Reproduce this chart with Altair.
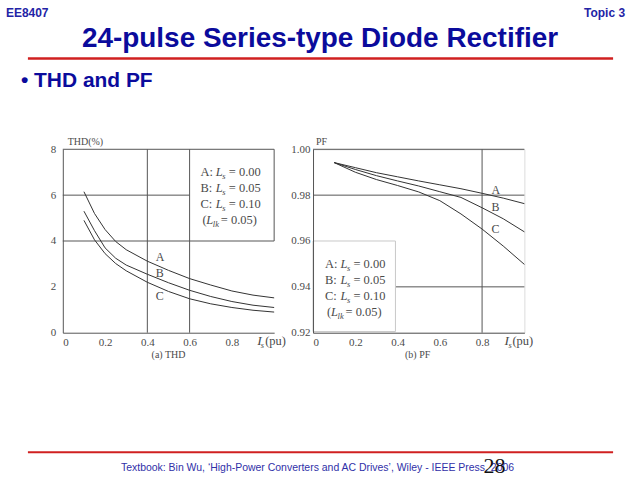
import altair as alt
import pandas as pd

# ---------------- data ----------------
I_thd = [0.10, 0.15, 0.20, 0.25, 0.30, 0.40, 0.50, 0.60, 0.70, 0.80, 0.90, 1.00]
thd_A = [6.15, 5.20, 4.50, 3.98, 3.62, 3.12, 2.72, 2.36, 2.08, 1.82, 1.64, 1.52]
thd_B = [5.30, 4.45, 3.70, 3.25, 2.95, 2.55, 2.18, 1.85, 1.58, 1.36, 1.20, 1.10]
thd_C = [4.90, 4.05, 3.45, 3.02, 2.70, 2.20, 1.80, 1.48, 1.26, 1.10, 0.98, 0.90]

I_pf = [0.10, 0.20, 0.30, 0.40, 0.50, 0.60, 0.70, 0.80, 0.90, 1.00]
pf_A = [0.9942, 0.9920, 0.9898, 0.9880, 0.9862, 0.9845, 0.9828, 0.9808, 0.9787, 0.9763]
pf_B = [0.9942, 0.9912, 0.9885, 0.9862, 0.9840, 0.9815, 0.9790, 0.9745, 0.9697, 0.9640]
pf_C = [0.9942, 0.9900, 0.9868, 0.9842, 0.9814, 0.9776, 0.9718, 0.9652, 0.9578, 0.9498]

curve_names = ["A", "B", "C"]
ls_values = ["= 0.00", "= 0.05", "= 0.10"]
llk_value = "= 0.05)"

thd_ticks = [0, 2, 4, 6, 8]
pf_ticks = [0.92, 0.94, 0.96, 0.98, 1.00]
x_ticks = [0, 0.2, 0.4, 0.6, 0.8]

# grid / frame lines (data units)
thd_h_y = [8, 6, 4]
thd_h_x1 = [0, 0, 0]
thd_h_x2 = [1.0, 0.6, 1.0]
thd_v_x = [0.4, 0.6, 1.0]
thd_v_y1 = [0, 0, 4]
thd_v_y2 = [8, 8, 8]

pf_h_y = [1.00, 0.98, 0.94]
pf_h_x1 = [0, 0, 0.39]
pf_h_x2 = [1.0, 1.0, 1.0]
pf_v_x = [0.8]
pf_v_y1 = [0.92]
pf_v_y2 = [1.00]

# annotation anchors (data units)
thd_lab_x = [0.44, 0.44, 0.44]
thd_lab_y = [3.30, 2.62, 1.62]
pf_lab_x = [0.845, 0.845, 0.845]
pf_lab_y = [0.9821, 0.9748, 0.9651]
thd_leg_x = 0.651
thd_leg_y = [7.00, 6.30, 5.61, 4.91]
pf_leg_x = 0.057
pf_leg_y = [0.9499, 0.9429, 0.9361, 0.9291]

# ---------------- style ----------------
SERIF = "Liberation Serif"
SANS = "Liberation Sans"
TC = "#4a4a4a"
LC = "#555555"
BLUE = "#0b0b9c"
RED = "#d02020"
W, H = 212, 184
FS = 12.5


def one():
    return pd.DataFrame({"k": [0]})


def deco_text(text, x, y, **kw):
    return alt.Chart(one()).mark_text(text=text, **kw).encode(
        x=alt.value(x), y=alt.value(y))


def ftext(df, xs, ys, text_field=None, **kw):
    enc = dict(x=alt.X("x:Q", scale=xs, title=None),
               y=alt.Y("y:Q", scale=ys, title=None))
    if text_field:
        enc["text"] = alt.Text(f"{text_field}:N")
    return alt.Chart(df).mark_text(**kw).encode(**enc)


def rules(xs, ys, hx1, hx2, hy, vx, vy1, vy2):
    h = alt.Chart(pd.DataFrame({"x": hx1, "x2": hx2, "y": hy})).mark_rule(
        color=LC, strokeWidth=1).encode(
        x=alt.X("x:Q", scale=xs, title=None), x2="x2:Q",
        y=alt.Y("y:Q", scale=ys, title=None))
    v = alt.Chart(pd.DataFrame({"x": vx, "y": vy1, "y2": vy2})).mark_rule(
        color=LC, strokeWidth=1).encode(
        x=alt.X("x:Q", scale=xs, title=None),
        y=alt.Y("y:Q", scale=ys, title=None), y2="y2:Q")
    return [h, v]


def legend_layers(xs, ys, lx, ly):
    rows = pd.DataFrame({"x": [lx] * 3, "y": ly[:3],
                         "pre": [c + ":" for c in curve_names], "val": ls_values})
    base = dict(align="left", baseline="middle", font=SERIF, fontSize=FS, color=TC)
    out = [
        ftext(rows, xs, ys, "pre", **base),
        ftext(rows, xs, ys, text="L", fontStyle="italic", dx=15.5, **base),
        ftext(rows, xs, ys, text="s", fontStyle="italic", dx=22, dy=4,
              **{**base, "fontSize": 8.5}),
        ftext(rows, xs, ys, "val", dx=28.5, **base),
    ]
    prow = pd.DataFrame({"x": [lx], "y": [ly[3]]})
    out += [
        ftext(prow, xs, ys, text="(", dx=2, **base),
        ftext(prow, xs, ys, text="L", fontStyle="italic", dx=6, **base),
        ftext(prow, xs, ys, text="lk", fontStyle="italic", dx=12.5, dy=4,
              **{**base, "fontSize": 8.5}),
        ftext(prow, xs, ys, text=llk_value, dx=20.5, **base),
    ]
    return out


def xtitle_layers(xs, ys, ymin, dI, dsub, dpu):
    p = pd.DataFrame({"x": [1.0], "y": [ymin]})
    base = dict(align="left", baseline="middle", font=SERIF, color=TC)
    return [
        ftext(p, xs, ys, text="I", fontStyle="italic", fontSize=13.5, dx=dI, dy=8, **base),
        ftext(p, xs, ys, text="s", fontStyle="italic", fontSize=8.5, dx=dsub, dy=12, **base),
        ftext(p, xs, ys, text="(pu)", fontSize=12.5, dx=dpu, dy=8, **base),
    ]


axis_common = dict(labelFont=SERIF, labelFontSize=11, labelColor=TC,
                   domainColor=LC, domainWidth=1, ticks=False, grid=False,
                   zindex=1, title=None)

# ---------------- THD panel ----------------
xs1 = alt.Scale(domain=[0, 1], nice=False, zero=False)
ys1 = alt.Scale(domain=[0, 8], nice=False)

thd_df = pd.DataFrame({
    "I": I_thd * 3,
    "v": thd_A + thd_B + thd_C,
    "c": [n for n in curve_names for _ in I_thd],
})

thd_lines = alt.Chart(thd_df).mark_line(color="#333333", strokeWidth=1).encode(
    x=alt.X("I:Q", scale=xs1,
            axis=alt.Axis(values=x_ticks, labelPadding=4,
                          labelExpr="datum.value == 0 ? '0' : format(datum.value, '.1f')",
                          **axis_common)),
    y=alt.Y("v:Q", scale=ys1,
            axis=alt.Axis(values=thd_ticks, labelPadding=7, **axis_common)),
    detail="c:N",
)

bg = alt.Chart(one()).mark_rect(fill="white", strokeWidth=0).encode(
    x=alt.value(-62), x2=alt.value(578), y=alt.value(-148), y2=alt.value(332))

slide = [
    deco_text("EE8407", -57, -137, align="left", baseline="middle",
              font=SANS, fontSize=12, fontWeight="bold", color="#2323a6"),
    deco_text("Topic 3", 564, -137, align="right", baseline="middle",
              font=SANS, fontSize=12, fontWeight="bold", color="#2323a6"),
    deco_text("24-pulse Series-type Diode Rectifier", 258, -111, align="center",
              baseline="middle", font=SANS, fontSize=28, fontWeight="bold", color=BLUE),
    alt.Chart(one()).mark_rule(color=RED, strokeWidth=2.5).encode(
        x=alt.value(-35), x2=alt.value(552), y=alt.value(-91)),
    deco_text("\u2022 THD and PF", -42, -68, align="left", baseline="middle",
              font=SANS, fontSize=21, fontWeight="bold", color=BLUE),
    alt.Chart(one()).mark_rule(color=RED, strokeWidth=2).encode(
        x=alt.value(-35), x2=alt.value(552), y=alt.value(304)),
    deco_text("Textbook: Bin Wu, \u2018High-Power Converters and AC Drives\u2019, Wiley - IEEE Press, 2006",
              255.5, 320, align="center", baseline="middle", font=SANS,
              fontSize=10.5, color="#3030a8"),
    deco_text("28", 433, 318, align="center", baseline="middle", font=SERIF,
              fontSize=22, color="#111111"),
]

thd_labels = ftext(pd.DataFrame({"x": thd_lab_x, "y": thd_lab_y, "t": curve_names}),
                   xs1, ys1, "t", align="left", baseline="middle", font=SERIF,
                   fontSize=12, color=TC)
thd_ytitle = ftext(pd.DataFrame({"x": [0], "y": [8], "t": ["THD(%)"]}), xs1, ys1, "t",
                   align="left", baseline="middle", font=SERIF, fontSize=10,
                   color=TC, dx=5, dy=-7)
thd_caption = ftext(pd.DataFrame({"x": [0.5], "y": [0], "t": ["(a) THD"]}), xs1, ys1, "t",
                    align="center", baseline="middle", font=SERIF, fontSize=10,
                    color=TC, dy=22)

left = alt.layer(
    bg, *rules(xs1, ys1, thd_h_x1, thd_h_x2, thd_h_y, thd_v_x, thd_v_y1, thd_v_y2),
    thd_lines, thd_labels, *legend_layers(xs1, ys1, thd_leg_x, thd_leg_y),
    thd_ytitle, thd_caption, *xtitle_layers(xs1, ys1, 0, -17, -13.5, -9),
    *slide,
).properties(width=W, height=H)

# ---------------- PF panel ----------------
xs2 = alt.Scale(domain=[0, 1], nice=False, zero=False)
ys2 = alt.Scale(domain=[0.92, 1.0], nice=False, zero=False)

pf_df = pd.DataFrame({
    "I": I_pf * 3,
    "v": pf_A + pf_B + pf_C,
    "c": [n for n in curve_names for _ in I_pf],
})

pf_box = alt.Chart(one()).mark_rect(fill="white", stroke="#c8c8c8", strokeWidth=1).encode(
    x=alt.datum(0.0), x2=alt.datum(0.39), y=alt.datum(0.9205), y2=alt.datum(0.96))

pf_lines = alt.Chart(pf_df).mark_line(color="#333333", strokeWidth=1).encode(
    x=alt.X("I:Q", scale=xs2,
            axis=alt.Axis(values=x_ticks, labelPadding=4,
                          labelExpr="datum.value == 0 ? '0' : format(datum.value, '.1f')",
                          **axis_common)),
    y=alt.Y("v:Q", scale=ys2,
            axis=alt.Axis(values=pf_ticks, format=".2f", labelPadding=3, **axis_common)),
    detail="c:N",
)

pf_labels = ftext(pd.DataFrame({"x": pf_lab_x, "y": pf_lab_y, "t": curve_names}),
                  xs2, ys2, "t", align="left", baseline="middle", font=SERIF,
                  fontSize=12, color=TC)
pf_ytitle = ftext(pd.DataFrame({"x": [0], "y": [1.0], "t": ["PF"]}), xs2, ys2, "t",
                  align="left", baseline="middle", font=SERIF, fontSize=10,
                  color=TC, dx=3, dy=-7)
pf_caption = ftext(pd.DataFrame({"x": [0.495], "y": [0.92], "t": ["(b) PF"]}), xs2, ys2, "t",
                   align="center", baseline="middle", font=SERIF, fontSize=10,
                   color=TC, dy=22)

right = alt.layer(
    *rules(xs2, ys2, pf_h_x1, pf_h_x2, pf_h_y, pf_v_x, pf_v_y1, pf_v_y2),
    pf_box, pf_lines, pf_labels, *legend_layers(xs2, ys2, pf_leg_x, pf_leg_y),
    pf_ytitle, pf_caption, *xtitle_layers(xs2, ys2, 0.92, -20, -16, -12),
).properties(width=W, height=H)

chart = alt.hconcat(left, right, spacing=39, bounds="flush", padding=0).configure_view(
    strokeWidth=0).configure(background="white")

chart.save("out.html", embed_options={"renderer": "svg", "actions": False})
